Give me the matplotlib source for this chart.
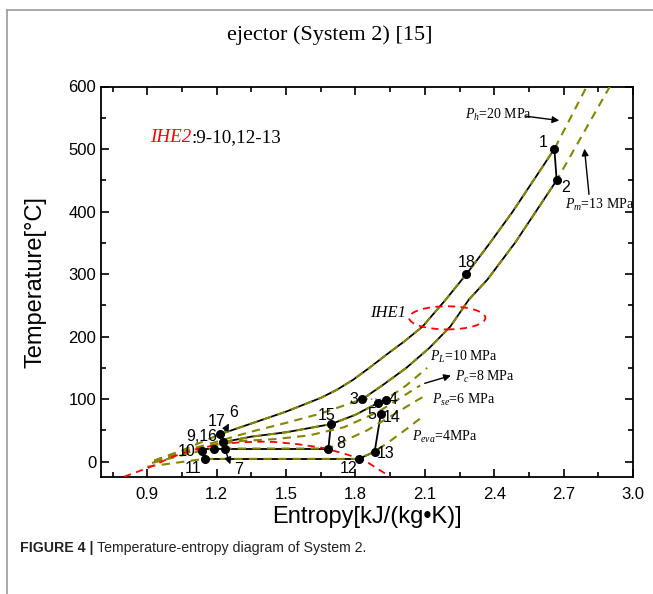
import matplotlib
matplotlib.use("Agg")
import matplotlib.pyplot as plt
from matplotlib.lines import Line2D
from matplotlib.patches import Ellipse
from matplotlib.text import Annotation

plt.rcParams["font.family"] = ["Liberation Sans", "DejaVu Sans"]
plt.rcParams["mathtext.fontset"] = "custom"
plt.rcParams["mathtext.rm"] = "Liberation Serif"
plt.rcParams["mathtext.it"] = "Liberation Serif:italic"

OLIVE = "#868600"
RED = "#ff0000"

# isobars (entropy kJ/(kg K), temperature C)
p20_s = [0.93, 1.05, 1.216, 1.35, 1.50, 1.65, 1.72, 1.79, 1.86, 1.93, 2.01, 2.09, 2.19,
         2.28, 2.38, 2.48, 2.57, 2.66, 2.80]
p20_t = [2, 18, 44, 61, 80, 102, 115, 131, 150, 170, 192, 216, 259,
         300, 349, 400, 450, 500, 600]
p13_s = [0.93, 1.05, 1.20, 1.35, 1.50, 1.65, 1.83, 1.92, 2.02, 2.12, 2.21, 2.29, 2.37,
         2.49, 2.58, 2.67, 2.90]
p13_t = [1, 16, 32, 48, 62, 77, 100, 123, 150, 182, 216, 259, 291,
         350, 400, 450, 600]
p10_s = [0.93, 1.05, 1.226, 1.35, 1.50, 1.694, 1.80, 1.896, 1.93, 2.02, 2.11]
p10_t = [0, 14, 31, 40, 47, 60, 75, 93.6, 99, 122, 150]
p8_s = [0.93, 1.05, 1.20, 1.30, 1.45, 1.60, 1.75, 1.90, 2.08]
p8_t = [-1, 12, 27, 33, 36, 42, 55, 80, 122]
p6_s = [0.92, 1.05, 1.136, 1.187, 1.683, 1.75, 1.85, 1.95, 2.07, 2.11]
p6_t = [-2, 10, 17.6, 21, 21, 33, 50, 72, 99, 107]
p4_s = [0.90, 1.02, 1.148, 1.815, 1.883, 1.95, 2.02, 2.09]
p4_t = [-8, -2, 4.5, 4.5, 16, 33, 52, 72]

# saturation dome
dome_s = [0.80, 0.91, 1.01, 1.10, 1.20, 1.30, 1.40, 1.45, 1.55, 1.66, 1.75, 1.835, 1.95]
dome_t = [-24, -9, 8, 19, 27, 31, 32, 31.5, 28, 22, 13, 3, -24]

# state points
pt_s = [2.66, 2.67, 2.28, 1.828, 1.930, 1.896, 1.910, 1.694, 1.683, 1.815, 1.883,
        1.216, 1.187, 1.226, 1.136, 1.148, 1.237]
pt_t = [500, 450, 300, 100.5, 99.4, 93.6, 77, 60, 21, 4.5, 16,
        44, 21, 31, 17.6, 4.5, 21]

labels = ["1", "2", "18", "3", "4", "5", "14", "15", "8", "13", "12",
          "11", "10", "9,16", "17", "6", "7"]
label_s = [2.613, 2.707, 2.283, 1.792, 1.965, 1.871, 1.958, 1.677, 1.737, 1.929, 1.77,
           1.10, 1.072, 1.136, 1.198, 1.273, 1.295]
label_t = [510, 438, 318, 100, 100, 75, 70.5, 74, 29.5, 12.3, -10.6,
           -10.6, 16.5, 40, 64, 79, -12]

fig = plt.figure(figsize=(6.53, 5.94), dpi=100)
ax = fig.add_axes([101 / 653, 1 - 477.3 / 594, 532 / 653, 390.8 / 594])

# solid process lines
black = dict(color="black", lw=1.3, zorder=2)
i0, i1 = p20_s.index(1.216), p20_s.index(2.66)
ax.plot(p20_s[i0:i1 + 1], p20_t[i0:i1 + 1], **black)
i0, i1 = p13_s.index(1.83), p13_s.index(2.67)
ax.plot(p13_s[i0:i1 + 1], p13_t[i0:i1 + 1], **black)
i0, i1 = p10_s.index(1.226), p10_s.index(1.93)
ax.plot(p10_s[i0:i1 + 1], p10_t[i0:i1 + 1], **black)
ax.plot([2.66, 2.67], [500, 450], **black)
ax.plot([1.694, 1.683], [60, 21], **black)
ax.plot([1.136, 1.683], [21, 21], **black)
ax.plot([1.148, 1.815], [4.5, 4.5], **black)
ax.plot([1.815, 1.883], [4.5, 16], **black)
ax.plot([1.883, 1.910], [16, 77], **black)
ax.plot([1.828, 1.930], [100.5, 99.4], color="#999999", lw=1.2, ls=":", zorder=2)

# dashed isobars
for s, t in [(p20_s, p20_t), (p13_s, p13_t), (p10_s, p10_t),
             (p8_s, p8_t), (p6_s, p6_t), (p4_s, p4_t)]:
    ax.plot(s, t, color=OLIVE, lw=1.5, dashes=(4, 3), zorder=3)

ax.plot(dome_s, dome_t, color=RED, lw=1.3, dashes=(4, 3), zorder=3)
ax.add_patch(Ellipse((2.197, 230), 0.33, 37, fill=False, ec=RED, lw=1.3,
                     ls=(0, (4, 3)), zorder=3))

ax.plot(pt_s, pt_t, "o", color="black", ms=5.5, zorder=4)
for lab, s, t in zip(labels, label_s, label_t):
    ax.text(s, t, lab, fontsize=11.5, ha="center", va="center", zorder=5)

arrow = dict(arrowstyle="-|>", color="black", lw=1.0, mutation_scale=10)
ax.annotate("", xy=(1.259, 65), xytext=(1.23, 45.5), arrowprops=arrow)
ax.annotate("", xy=(1.263, -8.5), xytext=(1.237, 19), arrowprops=arrow)
ax.annotate("", xy=(2.224, 139), xytext=(2.088, 124), arrowprops=arrow)
ax.annotate("", xy=(2.693, 545), xytext=(2.526, 553), arrowprops=arrow)
ax.annotate("", xy=(2.789, 505), xytext=(2.811, 423), arrowprops=arrow)

serif = dict(family="Liberation Serif", fontsize=10, va="center", ha="left")
ax.text(2.275, 555, r"$P_h$=20 MPa", **serif)
ax.text(2.707, 411, r"$P_m$=13 MPa", **serif)
ax.text(2.124, 167, r"$P_L$=10 MPa", **serif)
ax.text(2.232, 136, r"$P_c$=8 MPa", **serif)
ax.text(2.131, 99, r"$P_{se}$=6 MPa", **serif)
ax.text(2.044, 39, r"$P_{eva}$=4MPa", **serif)
ax.text(1.864, 238, "IHE1", family="Liberation Serif", style="italic",
        fontsize=12, va="center", ha="left")
t1 = ax.text(0.912, 518, "IHE2", family="Liberation Serif", style="italic",
             fontsize=13.7, color=RED, va="center", ha="left")
ax.annotate(":9-10,12-13", xycoords=t1, xy=(1, 0.5), va="center", ha="left",
            family="Liberation Serif", fontsize=13.7)

ax.set_xlim(0.7, 3.0)
ax.set_ylim(-25, 600)
ax.set_xticks([0.9, 1.2, 1.5, 1.8, 2.1, 2.4, 2.7, 3.0])
ax.set_xticks([0.75, 1.05, 1.35, 1.65, 1.95, 2.25, 2.55, 2.85], minor=True)
ax.set_yticks([0, 100, 200, 300, 400, 500, 600])
ax.set_yticks([50, 150, 250, 350, 450, 550], minor=True)
ax.tick_params(which="both", direction="in", top=True, right=True,
               labelsize=12, width=1.2)
ax.tick_params(which="major", length=6)
ax.tick_params(which="minor", length=3.5)
ax.tick_params(axis="x", pad=7)
for sp in ax.spines.values():
    sp.set_linewidth(1.3)
ax.set_xlabel("Entropy[kJ/(kg\u2022K)]", fontsize=17, labelpad=3)
ax.set_ylabel("Temperature[\u00b0C]", fontsize=17, labelpad=16)

fig.text(330 / 653, 1 - 35 / 594, "ejector (System 2) [15]", family="Liberation Serif",
         fontsize=16, ha="center", va="center")
cap = fig.text(20 / 653, 1 - 548 / 594, "FIGURE 4 | ", fontsize=10.2, weight="bold",
               color="#222222", va="center", ha="left")
fig.add_artist(Annotation("Temperature-entropy diagram of System 2.", xy=(1, 0.5),
                          xycoords=cap, va="center", ha="left", fontsize=10.2,
                          color="#222222"))

fig.add_artist(Line2D([7 / 653, 1], [1 - 10 / 594, 1 - 10 / 594], color="#9a9a9a", lw=1.2))
fig.add_artist(Line2D([7 / 653, 7 / 653], [0, 1 - 10 / 594], color="#9a9a9a", lw=1.2))

fig.savefig("out.png", dpi=100)
